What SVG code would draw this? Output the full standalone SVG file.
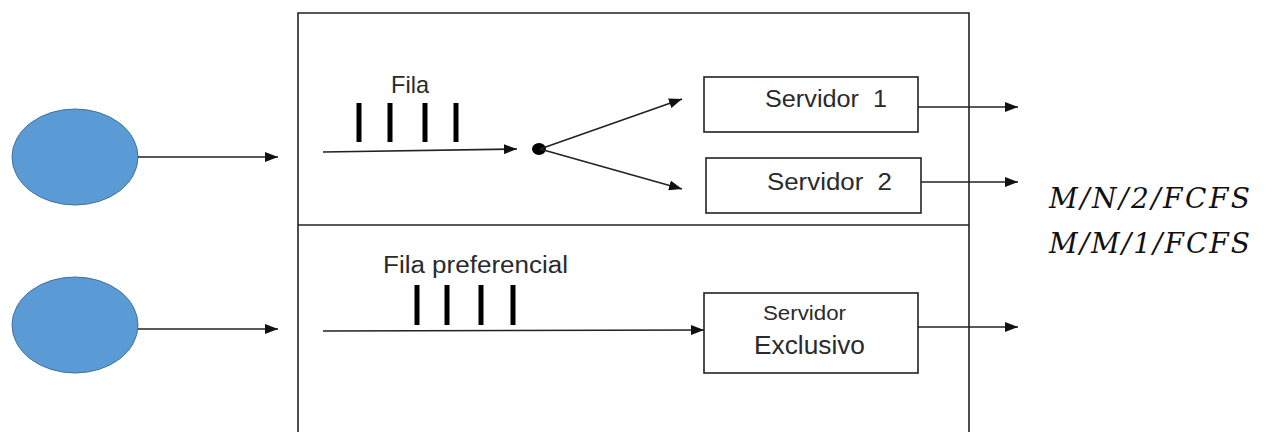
<svg xmlns="http://www.w3.org/2000/svg" width="1276" height="432" viewBox="0 0 1276 432">
<defs>
<style>
.ln{stroke:#222;stroke-width:1.6;fill:none}
.box{fill:#fff;stroke:#222;stroke-width:1.6}
.src{fill:#5B9BD5;stroke:#41719C;stroke-width:1}
.bar{stroke:#000;stroke-width:5}
.t{font-family:"Liberation Sans",Arial,sans-serif;fill:#2a2a2a}
.m{font-family:"DejaVu Serif","Liberation Serif",serif;font-style:italic;font-size:28px;fill:#111}
</style>
<marker id="ah" markerUnits="userSpaceOnUse" markerWidth="13" markerHeight="10" refX="13" refY="5" orient="auto">
<path d="M0,0 L13,5 L0,10 z" fill="#111"/>
</marker>
</defs>
<rect width="1276" height="432" fill="#fff"/>
<g id="frame">
<path class="ln" d="M298,440 L298,13 L969,13 L969,440"/>
<path class="ln" d="M298,225 L969,225"/>
</g>
<g id="source1"><ellipse class="src" cx="75" cy="157" rx="63" ry="48"/></g>
<g id="source2"><ellipse class="src" cx="75" cy="325" rx="63" ry="48"/></g>
<g id="queue1">
<text class="t" x="391" y="93" font-size="24" textLength="38" lengthAdjust="spacingAndGlyphs">Fila</text>
<line class="bar" x1="359" y1="103" x2="359" y2="142"/>
<line class="bar" x1="390" y1="103" x2="390" y2="142"/>
<line class="bar" x1="425" y1="103" x2="425" y2="142"/>
<line class="bar" x1="456" y1="103" x2="456" y2="142"/>
</g>
<g id="queue2">
<text class="t" x="383" y="273" font-size="23" textLength="185" lengthAdjust="spacingAndGlyphs">Fila preferencial</text>
<line class="bar" x1="417" y1="285" x2="417" y2="325"/>
<line class="bar" x1="447" y1="285" x2="447" y2="325"/>
<line class="bar" x1="481" y1="285" x2="481" y2="325"/>
<line class="bar" x1="513" y1="285" x2="513" y2="325"/>
</g>
<g id="split"><ellipse cx="539" cy="149" rx="7" ry="6" fill="#000"/></g>
<g id="server1">
<rect class="box" x="704" y="77" width="214" height="55"/>
<text class="t" x="765" y="107" font-size="23" textLength="122" lengthAdjust="spacingAndGlyphs" xml:space="preserve">Servidor  1</text>
</g>
<g id="server2">
<rect class="box" x="706" y="158" width="215" height="55"/>
<text class="t" x="767" y="190" font-size="23" textLength="125" lengthAdjust="spacingAndGlyphs" xml:space="preserve">Servidor  2</text>
</g>
<g id="server3">
<rect class="box" x="704" y="293" width="214" height="80"/>
<text class="t" x="763" y="320" font-size="20" textLength="83" lengthAdjust="spacingAndGlyphs">Servidor</text>
<text class="t" x="754" y="354" font-size="26" textLength="111" lengthAdjust="spacingAndGlyphs">Exclusivo</text>
</g>
<g id="labels">
<text class="m" x="1049" y="208" textLength="201" lengthAdjust="spacing">M/N/2/FCFS</text>
<text class="m" x="1049" y="253" textLength="201" lengthAdjust="spacing">M/M/1/FCFS</text>
</g>
<g id="connectors">
<line class="ln" x1="138" y1="157" x2="278" y2="157" marker-end="url(#ah)"/>
<line class="ln" x1="138" y1="329" x2="278" y2="329" marker-end="url(#ah)"/>
<line class="ln" x1="323" y1="152" x2="517" y2="149" marker-end="url(#ah)"/>
<line class="ln" x1="540" y1="149" x2="682" y2="99" marker-end="url(#ah)"/>
<line class="ln" x1="540" y1="149" x2="682" y2="189" marker-end="url(#ah)"/>
<line class="ln" x1="323" y1="331" x2="704" y2="330" marker-end="url(#ah)"/>
<line class="ln" x1="918" y1="107" x2="1018" y2="107" marker-end="url(#ah)"/>
<line class="ln" x1="921" y1="182" x2="1018" y2="182" marker-end="url(#ah)"/>
<line class="ln" x1="918" y1="327" x2="1018" y2="327" marker-end="url(#ah)"/>
</g>
</svg>
